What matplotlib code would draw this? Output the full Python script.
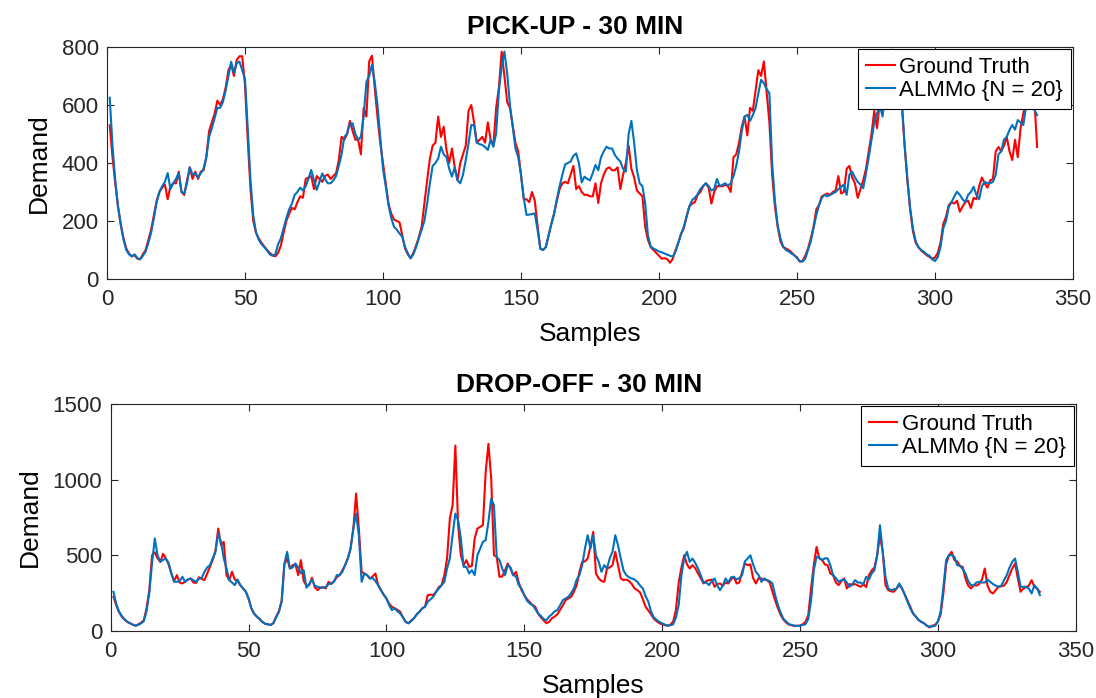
import matplotlib.pyplot as plt
import numpy as np

plt.rcParams['font.family'] = ['Liberation Sans', 'DejaVu Sans']

# pick-up demand, 30 min bins
pick_truth = [
    530, 420, 330, 250, 190, 140, 105, 88, 78, 82,
    70, 68, 85, 100, 135, 170, 220, 270, 300, 315,
    325, 275, 320, 330, 330, 370, 300, 290, 340, 385,
    345, 370, 345, 370, 375, 420, 510, 540, 570, 615,
    600, 620, 660, 720, 740, 700, 755, 768, 768, 670,
    480, 310, 200, 160, 140, 125, 112, 100, 90, 82,
    78, 90, 115, 160, 200, 225, 245, 240, 265, 285,
    280, 345, 350, 355, 310, 355, 345, 335, 355, 360,
    345, 355, 365, 410, 490, 480, 500, 545, 510, 480,
    480, 430, 590, 560, 750, 770, 660, 560, 470, 400,
    330, 260, 225, 205, 200, 195, 150, 105, 85, 72,
    90, 115, 145, 180, 260, 340, 415, 460, 470, 560,
    490, 525, 445, 400, 450, 385, 340, 400, 430, 460,
    580, 600, 540, 470, 480, 490, 470, 540, 480, 460,
    590, 660, 784, 700, 610, 590, 530, 470, 440, 360,
    275, 275, 265, 300, 270, 185, 105, 100, 110, 150,
    190, 225, 270, 310, 330, 335, 330, 360, 390, 310,
    320, 300, 290, 290, 285, 285, 330, 262, 330, 360,
    380, 385, 375, 375, 385, 310, 360, 400, 460, 380,
    350, 305, 295, 285, 180, 135, 110, 100, 90, 80,
    70, 72, 68, 56, 70, 100, 125, 155, 175, 215,
    250, 260, 265, 290, 300, 320, 330, 315, 260, 300,
    320, 320, 320, 325, 320, 300, 420, 430, 470, 525,
    560, 495, 590, 580, 650, 720, 700, 750, 645, 540,
    360, 250, 180, 130, 110, 105, 100, 92, 82, 75,
    60, 62, 80, 105, 140, 180, 240, 255, 285, 290,
    295, 290, 300, 305, 355, 295, 300, 380, 390, 350,
    330, 280, 310, 340, 380, 440, 500, 580, 520, 610,
    650, 700, 750, 790, 790, 760, 700, 600, 460, 340,
    240, 165, 125, 110, 98, 90, 82, 76, 70, 74,
    90, 125, 190, 215, 255, 265, 260, 270, 232, 250,
    265, 270, 245, 280, 275, 320, 350, 330, 315, 340,
    345, 440, 455, 440, 460, 490, 440, 410, 480, 420,
    520, 570, 620, 640, 610, 620, 455,
]
pick_almmo = [
    625, 460, 340, 250, 185, 135, 100, 85, 78, 85,
    72, 68, 80, 95, 125, 160, 210, 265, 300, 320,
    335, 365, 310, 330, 345, 365, 300, 295, 330, 385,
    360, 365, 350, 365, 380, 420, 490, 520, 555, 590,
    590, 610, 650, 700, 749, 710, 744, 750, 720, 690,
    520, 340, 220, 160, 135, 120, 110, 98, 85, 80,
    85, 120, 140, 175, 210, 240, 260, 290, 300, 315,
    305, 320, 345, 376, 340, 307, 335, 364, 345, 330,
    330, 340, 355, 390, 430, 490, 500, 537, 537, 500,
    480, 490, 560, 680, 700, 738, 680, 600, 490, 380,
    320, 255, 210, 180, 170, 157, 145, 110, 88, 71,
    85, 110, 140, 170, 200, 260, 330, 390, 400, 415,
    456, 430, 420, 380, 353, 385, 341, 330, 360, 410,
    468, 531, 530, 470, 465, 462, 455, 445, 480, 456,
    502, 650, 732, 784, 709, 600, 525, 450, 420, 360,
    280, 221, 222, 224, 226, 170, 105, 100, 110, 150,
    190, 226, 275, 320, 360, 395, 400, 405, 425, 433,
    399, 333, 353, 345, 340, 365, 393, 375, 420, 440,
    456, 450, 450, 428, 415, 405, 380, 370, 500, 545,
    470, 376, 330, 320, 261, 150, 112, 105, 100, 95,
    92, 88, 84, 80, 77, 95, 125, 155, 180, 215,
    250, 272, 280, 292, 310, 320, 330, 320, 305, 310,
    345, 320, 325, 330, 322, 330, 355, 390, 440, 510,
    560, 566, 545, 565, 590, 640, 687, 675, 655, 640,
    400, 270, 185, 140, 112, 100, 95, 88, 82, 72,
    62, 60, 70, 100, 130, 175, 220, 255, 280, 290,
    285, 290, 295, 300, 310, 318, 325, 290, 360, 370,
    350, 335, 325, 313, 364, 420, 480, 540, 570, 600,
    560, 640, 720, 780, 790, 780, 730, 610, 460, 345,
    245, 175, 130, 110, 100, 94, 85, 80, 68, 62,
    75, 110, 175, 200, 249, 265, 285, 301, 290, 275,
    265, 290, 300, 318, 290, 275, 320, 335, 330, 330,
    335, 359, 430, 440, 480, 490, 514, 531, 515, 548,
    540, 531, 594, 620, 600, 583, 565,
]

# drop-off demand, 30 min bins
drop_truth = [
    226, 171, 125, 95, 75, 60, 51, 42, 35, 44,
    55, 70, 150, 270, 500, 520, 480, 457, 510, 480,
    440, 380, 330, 369, 320, 314, 325, 340, 347, 320,
    318, 355, 345, 336, 380, 424, 470, 530, 677, 567,
    589, 369, 336, 391, 340, 330, 303, 281, 260, 215,
    150, 115, 95, 80, 60, 48, 44, 40, 52, 95,
    130, 200, 440, 480, 413, 435, 440, 369, 468, 330,
    300, 303, 352, 290, 270, 286, 290, 281, 325, 310,
    330, 355, 369, 400, 435, 479, 545, 677, 908, 677,
    391, 380, 369, 347, 360, 380, 303, 270, 240, 215,
    180, 160, 150, 140, 127, 90, 60, 51, 70, 84,
    110, 127, 150, 160, 237, 240, 237, 259, 290, 303,
    369, 479, 743, 831, 1226, 700, 500, 435, 468, 424,
    430, 611, 677, 688, 700, 1051, 1237, 1007, 501, 490,
    358, 360, 400, 446, 413, 369, 391, 320, 270, 237,
    210, 190, 171, 160, 116, 90, 70, 51, 60, 84,
    95, 110, 140, 170, 204, 215, 226, 260, 303, 391,
    457, 460, 479, 560, 655, 380, 347, 330, 325, 413,
    420, 435, 523, 435, 347, 336, 340, 330, 310, 281,
    270, 255, 210, 160, 135, 110, 80, 65, 51, 45,
    38, 35, 42, 62, 140, 320, 420, 501, 440, 413,
    435, 415, 380, 350, 314, 330, 336, 340, 292, 310,
    314, 300, 320, 314, 340, 358, 314, 320, 391, 446,
    435, 440, 350, 314, 350, 347, 340, 336, 320, 260,
    200, 150, 105, 75, 55, 42, 38, 33, 35, 35,
    45, 60, 105, 281, 435, 556, 479, 470, 440, 435,
    380, 369, 320, 303, 330, 347, 281, 310, 305, 310,
    300, 292, 310, 290, 369, 400, 420, 501, 633, 523,
    303, 270, 262, 259, 280, 303, 281, 240, 200, 160,
    116, 95, 73, 60, 51, 35, 24, 35, 40, 62,
    110, 250, 440, 500, 523, 468, 460, 430, 424, 347,
    300, 281, 303, 300, 310, 340, 413, 300, 259, 248,
    270, 292, 295, 300, 325, 370, 413, 446, 347, 259,
    280, 290, 300, 336, 292, 280, 259,
]
drop_almmo = [
    259, 180, 130, 100, 78, 62, 51, 42, 35, 40,
    50, 65, 130, 250, 450, 611, 500, 457, 470, 479,
    450, 380, 325, 325, 330, 358, 325, 340, 347, 335,
    325, 345, 350, 391, 420, 435, 480, 523, 644, 589,
    480, 413, 336, 320, 303, 340, 303, 281, 260, 215,
    150, 115, 95, 80, 60, 48, 44, 40, 52, 90,
    125, 193, 446, 523, 413, 420, 446, 420, 380, 402,
    286, 310, 340, 300, 292, 286, 286, 290, 310, 315,
    325, 369, 369, 390, 435, 479, 545, 677, 776, 633,
    325, 380, 369, 347, 350, 330, 303, 270, 240, 215,
    170, 138, 150, 130, 116, 90, 60, 51, 65, 84,
    110, 127, 150, 160, 193, 210, 226, 259, 280, 303,
    325, 413, 479, 633, 776, 732, 611, 424, 424, 380,
    402, 369, 500, 545, 589, 600, 721, 875, 831, 490,
    468, 413, 369, 435, 420, 369, 360, 303, 280, 237,
    200, 182, 171, 145, 116, 100, 80, 70, 95, 110,
    130, 138, 170, 204, 215, 226, 250, 281, 340, 369,
    435, 545, 633, 545, 633, 500, 457, 391, 435, 413,
    480, 523, 633, 567, 479, 400, 369, 355, 347, 340,
    325, 300, 281, 230, 193, 127, 90, 73, 60, 51,
    42, 35, 38, 44, 90, 171, 369, 480, 523, 457,
    479, 450, 413, 369, 320, 320, 303, 330, 347, 300,
    270, 300, 347, 320, 355, 358, 340, 350, 369, 460,
    479, 500, 440, 391, 369, 325, 347, 336, 330, 314,
    237, 171, 120, 80, 62, 45, 40, 35, 33, 35,
    40, 45, 80, 200, 400, 490, 485, 468, 480, 480,
    435, 369, 350, 325, 336, 340, 320, 292, 310, 336,
    320, 320, 310, 358, 340, 380, 402, 501, 699, 523,
    358, 281, 270, 275, 280, 314, 281, 240, 193, 150,
    116, 95, 73, 60, 51, 35, 28, 30, 35, 62,
    127, 290, 468, 501, 501, 490, 435, 430, 410, 380,
    330, 303, 303, 320, 325, 320, 320, 340, 325, 310,
    300, 292, 300, 336, 369, 420, 457, 479, 391, 292,
    292, 292, 280, 248, 303, 281, 237,
]

x_pick = np.arange(1, len(pick_truth) + 1)
x_drop = np.arange(1, len(drop_truth) + 1)

fig = plt.figure(figsize=(10.96, 6.98), dpi=100)
ax1 = fig.add_axes([0.0976, 0.6003, 0.8814, 0.3324])
ax2 = fig.add_axes([0.1010, 0.0960, 0.8805, 0.3252])

panels = [
    (ax1, x_pick, pick_truth, pick_almmo, 'PICK-UP - 30 MIN', 800, 200),
    (ax2, x_drop, drop_truth, drop_almmo, 'DROP-OFF - 30 MIN', 1500, 500),
]
for ax, x, truth, almmo, title, ymax, ystep in panels:
    ax.plot(x, truth, color='#FF0000', linewidth=1.5, label='Ground Truth')
    ax.plot(x, almmo, color='#0072BD', linewidth=1.5, label='ALMMo {N = 20}')
    ax.set_xlim(0, 350)
    ax.set_ylim(0, ymax)
    ax.set_xticks(np.arange(0, 351, 50))
    ax.set_yticks(np.arange(0, ymax + 1, ystep))
    ax.tick_params(direction='in', top=True, right=True, labelsize=16,
                   length=5, width=0.8, colors='#262626')
    ax.tick_params(axis='x', pad=7)
    ax.tick_params(axis='y', pad=6)
    for sp in ax.spines.values():
        sp.set_color('#262626')
        sp.set_linewidth(0.8)
    ax.set_title(title, fontsize=19, fontweight='bold', pad=9, x=0.485)
    ax.set_xlabel('Samples', fontsize=19, labelpad=9)
    ax.set_ylabel('Demand', fontsize=19, labelpad=8)
    leg = ax.legend(loc='upper right', fontsize=16, frameon=True, fancybox=False,
                    framealpha=1, edgecolor='black', borderaxespad=0.1,
                    handlelength=1.3, handletextpad=0.2, borderpad=0.35,
                    labelspacing=0.1)
    leg.get_frame().set_linewidth(0.8)

fig.savefig('out.png', dpi=100)
